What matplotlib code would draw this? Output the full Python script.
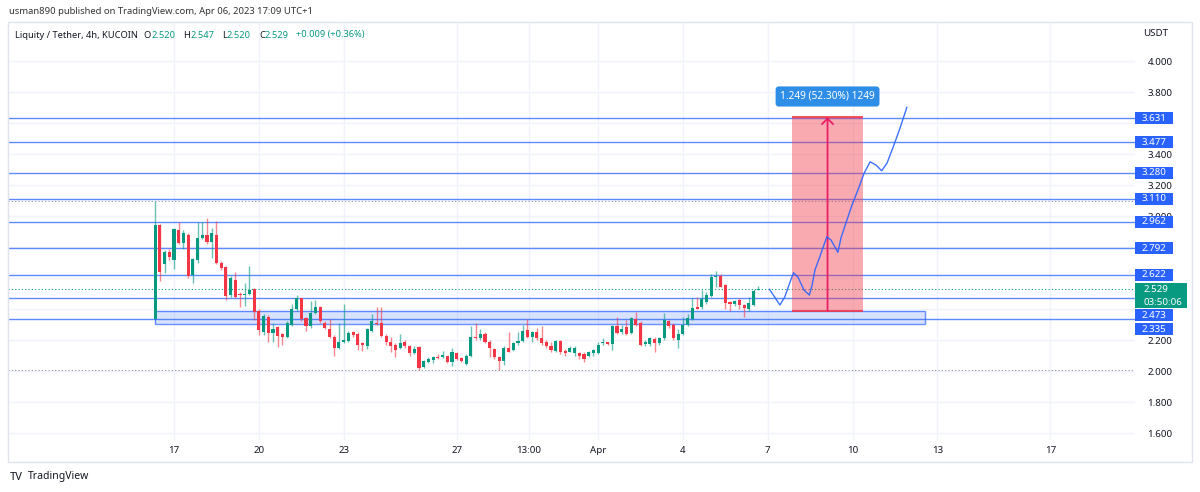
import numpy as np
import matplotlib
matplotlib.use("Agg")
import matplotlib.pyplot as plt
from matplotlib.patches import Rectangle, FancyArrowPatch
from matplotlib.transforms import blended_transform_factory

plt.rcParams['font.family'] = ['Noto Sans', 'DejaVu Sans']

# ---- data -----------------------------------------------------------------
# 4h candles, day numbers counted in March (Apr 1 = 32)
first_day = 16 + 8 / 24

opens = [
    2.335, 2.94, 2.69, 2.77, 2.715, 2.91, 2.825, 2.88, 2.62, 2.715,
    2.86, 2.88, 2.83, 2.88, 2.70, 2.67, 2.49, 2.59, 2.50, 2.49,
    2.497, 2.53, 2.39,
    2.252, 2.348, 2.245, 2.284, 2.24, 2.22, 2.30, 2.40, 2.47, 2.342,
    2.29, 2.374, 2.41, 2.31, 2.27, 2.22, 2.15, 2.19, 2.195, 2.25,
    2.24, 2.18,
    2.16, 2.26, 2.31, 2.31, 2.225, 2.19, 2.17, 2.15, 2.19, 2.16,
    2.115, 2.155, 2.025, 2.06, 2.07, 2.09, 2.09, 2.095, 2.06, 2.115,
    2.085, 2.045,
    2.10, 2.22, 2.21, 2.24, 2.19, 2.14, 2.09, 2.065, 2.15, 2.135,
    2.18, 2.195, 2.265, 2.22, 2.25, 2.21, 2.19, 2.16, 2.13, 2.195,
    2.13, 2.125,
    2.115, 2.115, 2.11, 2.10, 2.115, 2.115, 2.18, 2.185, 2.175, 2.29,
    2.255, 2.285, 2.245, 2.335, 2.31, 2.175, 2.175, 2.205, 2.18, 2.21,
    2.325,
    2.30, 2.20, 2.24, 2.30, 2.335, 2.41, 2.41, 2.445, 2.485, 2.605,
    2.61, 2.555, 2.445, 2.43, 2.46, 2.425, 2.40, 2.425, 2.520,
]
highs = [
    3.10, 2.95, 2.78, 2.79, 2.92, 2.96, 2.91, 2.89, 2.73, 2.96,
    2.96, 2.99, 2.92, 2.97, 2.71, 2.68, 2.61, 2.64, 2.51, 2.57,
    2.68, 2.535, 2.40,
    2.37, 2.36, 2.31, 2.29, 2.245, 2.32, 2.43, 2.49, 2.47, 2.35,
    2.45, 2.46, 2.42, 2.32, 2.335, 2.23, 2.31, 2.43, 2.26, 2.26,
    2.25, 2.19,
    2.28, 2.37, 2.41, 2.41, 2.24, 2.22, 2.18, 2.24, 2.20, 2.17,
    2.16, 2.16, 2.07, 2.09, 2.10, 2.11, 2.13, 2.10, 2.15, 2.12,
    2.09, 2.11,
    2.29, 2.31, 2.27, 2.25, 2.20, 2.15, 2.10, 2.16, 2.25, 2.19,
    2.25, 2.30, 2.335, 2.26, 2.28, 2.29, 2.20, 2.19, 2.20, 2.20,
    2.14, 2.16,
    2.16, 2.12, 2.12, 2.13, 2.14, 2.19, 2.21, 2.19, 2.30, 2.35,
    2.30, 2.33, 2.35, 2.38, 2.32, 2.20, 2.22, 2.22, 2.22, 2.375,
    2.33,
    2.31, 2.27, 2.35, 2.37, 2.47, 2.48, 2.52, 2.51, 2.625, 2.645,
    2.625, 2.56, 2.45, 2.46, 2.47, 2.43, 2.48, 2.53, 2.547,
]
lows = [
    2.335, 2.58, 2.63, 2.715, 2.66, 2.82, 2.79, 2.60, 2.57, 2.70,
    2.85, 2.82, 2.73, 2.69, 2.65, 2.46, 2.48, 2.47, 2.41, 2.42,
    2.49, 2.33, 2.23,
    2.23, 2.19, 2.19, 2.155, 2.17, 2.21, 2.29, 2.39, 2.32, 2.26,
    2.28, 2.37, 2.31, 2.27, 2.21, 2.10, 2.14, 2.18, 2.19, 2.22,
    2.135, 2.13,
    2.14, 2.25, 2.30, 2.22, 2.17, 2.12, 2.09, 2.14, 2.15, 2.10,
    2.11, 2.005, 2.02, 2.05, 2.05, 2.08, 2.085, 2.05, 2.03, 2.07,
    2.06, 2.04,
    2.09, 2.20, 2.20, 2.18, 2.09, 2.08, 2.005, 2.04, 2.12, 2.13,
    2.17, 2.19, 2.21, 2.19, 2.20, 2.17, 2.15, 2.12, 2.12, 2.11,
    2.10, 2.12,
    2.10, 2.08, 2.06, 2.09, 2.10, 2.11, 2.17, 2.17, 2.135, 2.24,
    2.24, 2.23, 2.24, 2.29, 2.16, 2.16, 2.16, 2.12, 2.17, 2.20,
    2.28,
    2.20, 2.15, 2.23, 2.29, 2.33, 2.40, 2.40, 2.43, 2.48, 2.545,
    2.54, 2.40, 2.39, 2.42, 2.40, 2.35, 2.39, 2.42, 2.520,
]
closes = [
    2.94, 2.64, 2.77, 2.735, 2.915, 2.825, 2.89, 2.61, 2.72, 2.86,
    2.88, 2.83, 2.89, 2.70, 2.665, 2.485, 2.60, 2.48, 2.49, 2.50,
    2.52, 2.38, 2.265,
    2.355, 2.245, 2.27, 2.226, 2.22, 2.31, 2.40, 2.47, 2.335, 2.29,
    2.374, 2.41, 2.32, 2.28, 2.22, 2.15, 2.19, 2.20, 2.245, 2.23,
    2.17, 2.165,
    2.27, 2.32, 2.305, 2.225, 2.19, 2.16, 2.135, 2.18, 2.16, 2.115,
    2.145, 2.02, 2.065, 2.08, 2.09, 2.085, 2.105, 2.06, 2.12, 2.08,
    2.065, 2.10,
    2.22, 2.21, 2.24, 2.19, 2.15, 2.09, 2.065, 2.15, 2.125, 2.18,
    2.195, 2.26, 2.22, 2.25, 2.21, 2.18, 2.16, 2.135, 2.195, 2.125,
    2.115, 2.15,
    2.15, 2.095, 2.075, 2.12, 2.135, 2.17, 2.19, 2.175, 2.29, 2.245,
    2.27, 2.24, 2.34, 2.30, 2.17, 2.19, 2.21, 2.18, 2.21, 2.33,
    2.29,
    2.21, 2.24, 2.30, 2.34, 2.405, 2.40, 2.465, 2.49, 2.605, 2.61,
    2.545, 2.44, 2.43, 2.455, 2.425, 2.405, 2.44, 2.515, 2.529,
]

# horizontal levels drawn on the chart
level_prices = [3.631, 3.477, 3.280, 3.110, 2.962, 2.792, 2.622, 2.473, 2.335]
# where the axis label sits when TradingView pushes it away from a neighbour
level_label_at = {2.473: 2.361, 2.335: 2.271}

# support zone rectangle
zone_days = [16.33, 43.57]
zone_prices = [2.303, 2.387]

# price range tool
range_days = [38.86, 41.37]
range_prices = [2.388, 3.637]
range_text = "1.249 (52.30%) 1249"

# hand-drawn projection path
path_days = [38.06, 38.22, 38.43, 38.60, 38.79, 38.91, 39.07, 39.28, 39.47, 39.57,
             39.67, 39.85, 40.09, 40.24, 40.48, 40.59, 40.80, 40.98, 41.19, 41.41,
             41.62, 41.83, 42.03, 42.22, 42.44, 42.68, 42.92]
path_prices = [2.527, 2.484, 2.426, 2.477, 2.574, 2.634, 2.606, 2.523, 2.490, 2.555,
               2.652, 2.742, 2.866, 2.845, 2.766, 2.858, 2.974, 3.071, 3.168, 3.277,
               3.350, 3.329, 3.292, 3.342, 3.447, 3.568, 3.701]

tick_days = [17, 20, 23, 27, 29 + 13 / 24, 32, 35, 38, 41, 44, 48]
tick_labels = ['17', '20', '23', '27', '13:00', 'Apr', '4', '7', '10', '13', '17']
# labels for 3.6 / 2.8 / 2.6 / 2.4 sit under the level tags, so leave them out
price_ticks = [1.6, 1.8, 2.0, 2.2, 3.0, 3.2, 3.4, 3.8, 4.0]
grid_prices = [1.6, 1.8, 2.0, 2.2, 2.4, 2.6, 2.8, 3.0, 3.2, 3.4, 3.6, 3.8, 4.0]

last_price = 2.529
countdown = "03:50:06"

GREEN = '#089981'
RED = '#f23645'
BLUE = '#2962ff'
TEXT = '#131722'
GRID = '#f0f3fa'

W, H = 1200, 492
fig = plt.figure(figsize=(W / 100, H / 100), dpi=100)
fig.patch.set_facecolor('white')

# outer chart frame
fig.patches.append(Rectangle((8 / W, 1 - 462 / H), 1184 / W, 440 / H,
                             transform=fig.transFigure, fc='none', ec='#e0e3eb', lw=1))

ax = fig.add_axes([8 / W, 1 - 440 / H, 1127 / W, 418 / H])
ax.set_xlim(11.128, 50.99)
ax.set_ylim(1.555, 4.252)
for s in ax.spines.values():
    s.set_visible(False)

# grid drawn by hand so hidden tick labels still get their line
for gp in grid_prices:
    ax.axhline(gp, color=GRID, lw=1, zorder=0)
for td in tick_days:
    ax.axvline(td, color=GRID, lw=1, zorder=0)

ax.set_xticks(tick_days, tick_labels)
ax.set_yticks(price_ticks, [f"{p:.3f}" for p in price_ticks])
ax.yaxis.tick_right()
ax.tick_params(axis='y', length=0, pad=9, labelsize=7, labelcolor=TEXT)
ax.tick_params(axis='x', length=0, pad=4, labelsize=7, labelcolor=TEXT)
ax.get_xticklabels()[5].set_fontweight('bold')

ppu = 418 / (4.252 - 1.555)  # pixels per price unit

# candles
o = np.array(opens)
c = np.array(closes)
days = first_day + np.arange(len(o)) / 6
cols = np.where(c >= o, GREEN, RED)
ax.vlines(days, lows, highs, colors=cols, lw=1, alpha=0.6, zorder=4)
ax.bar(days, np.maximum(np.abs(c - o), 1.2 / ppu), bottom=np.minimum(o, c),
       width=0.11, color=cols, lw=0, zorder=5)

# high / low and last price lines
ax.axhline(max(highs), color='#9598a1', ls=(0, (1, 2)), lw=0.8, zorder=2)
ax.axhline(min(lows), color='#9598a1', ls=(0, (1, 2)), lw=0.8, zorder=2)
ax.axhline(last_price, color=GREEN, ls=(0, (1, 2)), lw=0.8, zorder=2)

# zone
ax.add_patch(Rectangle((zone_days[0], zone_prices[0]), zone_days[1] - zone_days[0],
                       zone_prices[1] - zone_prices[0], fc=BLUE, alpha=0.18, ec='none', zorder=2))
ax.add_patch(Rectangle((zone_days[0], zone_prices[0]), zone_days[1] - zone_days[0],
                       zone_prices[1] - zone_prices[0], fc='none', ec=BLUE, lw=1, alpha=0.7, zorder=3))

# levels
for p in level_prices:
    ax.axhline(p, color=BLUE, lw=1, alpha=0.75, zorder=3)

# price range
ax.add_patch(Rectangle((range_days[0], range_prices[0]), range_days[1] - range_days[0],
                       range_prices[1] - range_prices[0], fc=RED, alpha=0.42, ec='none', zorder=3))
ax.hlines(range_prices, range_days[0], range_days[1], color=RED, lw=1.2, zorder=4)
mid = (range_days[0] + range_days[1]) / 2
ax.add_patch(FancyArrowPatch((mid, range_prices[0]), (mid, range_prices[1]),
                             arrowstyle='->,head_length=4,head_width=4', color='#e91e63',
                             lw=1.3, shrinkA=0, shrinkB=0, zorder=5))
ax.annotate(range_text, (mid, range_prices[1]), xytext=(0, 15), textcoords='offset points',
            ha='center', va='center', color='white', fontsize=7.3, zorder=6,
            bbox=dict(boxstyle='round,pad=0.45,rounding_size=0.3', fc='#2e8de6', ec='none'))

# projection path
ax.plot(path_days, path_prices, color=BLUE, lw=1, alpha=0.9, zorder=5)

# price scale labels
tr = blended_transform_factory(ax.transAxes, ax.transData)
aw = 1127


def axis_label(price, text, color, w_px=38, h_px=12):
    ax.add_patch(Rectangle((1.0, price - h_px / 2 / ppu), w_px / aw, h_px / ppu, transform=tr,
                           fc=color, ec='none', clip_on=False, zorder=6))
    ax.text(1.0 + w_px / 2 / aw, price, text, transform=tr, ha='center', va='center',
            color='white', fontsize=7, clip_on=False, zorder=7)


for p in level_prices:
    axis_label(level_label_at.get(p, p), f"{p:.3f}", BLUE)

ax.add_patch(Rectangle((1.0, last_price - 19 / ppu), 52 / aw, 25 / ppu, transform=tr,
                       fc=GREEN, ec='none', clip_on=False, zorder=6))
ax.text(1.0 + 9 / aw, last_price, f"{last_price:.3f}", transform=tr, ha='left', va='center',
        color='white', fontsize=7, clip_on=False, zorder=7)
ax.text(1.0 + 9 / aw, last_price - 13 / ppu, countdown, transform=tr, ha='left', va='center',
        color='white', fontsize=7, clip_on=False, zorder=7)

# header texts
fig.text(9 / W, 1 - 12 / H, "usman890 published on TradingView.com, Apr 06, 2023 17:09 UTC+1",
         fontsize=6.8, color='#333333', va='center')
fig.text(1156 / W, 1 - 34 / H, "USDT", fontsize=7, color=TEXT, va='center', ha='center')

# OHLC legend, pieces laid out one after another
legend_parts = [
    ("Liquity / Tether, 4h, KUCOIN", TEXT, 6),
    ("O", TEXT, 0), (f"{opens[-1]:.3f}", GREEN, 8),
    ("H", TEXT, 0), (f"{highs[-1]:.3f}", GREEN, 8),
    ("L", TEXT, 0), (f"{lows[-1]:.3f}", GREEN, 8),
    ("C", TEXT, 0), (f"{closes[-1]:.3f}", GREEN, 7),
    ("+0.009 (+0.36%)", GREEN, 0),
]
renderer = fig.canvas.get_renderer()
x = 15
for t, col, gap in legend_parts:
    txt = fig.text(x / W, 1 - 35 / H, t, fontsize=6.7, color=col, va='center')
    x = txt.get_window_extent(renderer).x1 + gap

# footer logo
fig.text(10 / W, 1 - 477 / H, "TV", fontsize=8, fontweight='heavy', color=TEXT, va='center')
fig.text(28 / W, 1 - 477 / H, "TradingView", fontsize=7.5, color=TEXT, va='center')

fig.savefig("out.png", dpi=100)
